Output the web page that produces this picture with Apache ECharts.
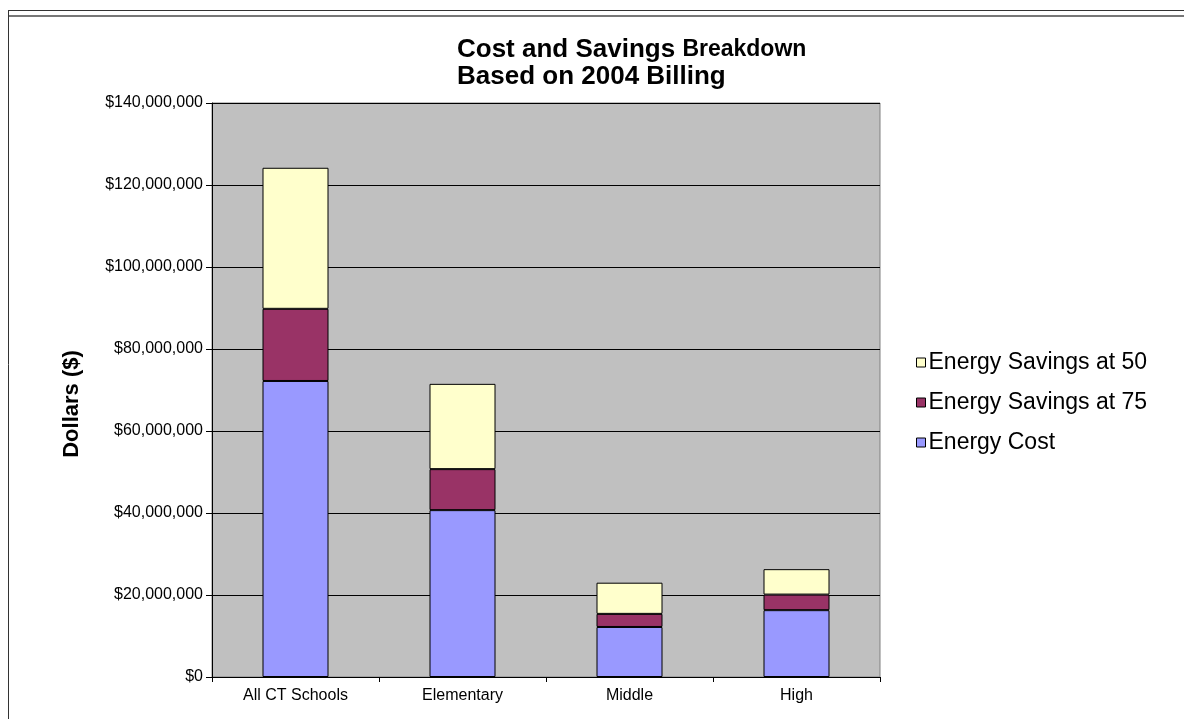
<!DOCTYPE html>
<html>
<head>
<meta charset="utf-8">
<script src="https://cdn.jsdelivr.net/npm/echarts@6/dist/echarts.min.js"></script>
<style>
html,body{margin:0;padding:0;background:#fff;}
#chart{width:1184px;height:719px;}
</style>
</head>
<body>
<div id="chart"></div>
<script>
const categories = ['All CT Schools', 'Elementary', 'Middle', 'High'];
const energyCost = [72200000, 40700000, 12200000, 16300000];
const savings75 = [17600000, 10000000, 3200000, 3800000];
const savings50 = [34400000, 20800000, 7600000, 6200000];
const seriesNames = ['Energy Savings at 50', 'Energy Savings at 75', 'Energy Cost'];
const yTicks = { min: 0, max: 140000000, interval: 20000000 };

const FONT = '"Liberation Sans", Arial, sans-serif';
const chart = echarts.init(document.getElementById('chart'));

function money(v) {
  return '$' + Math.round(v).toString().replace(/\B(?=(\d{3})+(?!\d))/g, ',');
}

const barStyle = (color) => ({ color: color, borderColor: '#000', borderWidth: 1 });

chart.setOption({
  animation: false,
  backgroundColor: '#fff',
  title: {
    left: 457,
    top: 36,
    padding: 0,
    text: '{a|Cost and Savings }{b|Breakdown}\n{a|Based on 2004 Billing}',
    textStyle: {
      fontFamily: FONT,
      lineHeight: 27,
      rich: {
        a: { fontFamily: FONT, fontSize: 26, fontWeight: 'bold', color: '#000', lineHeight: 27 },
        b: { fontFamily: FONT, fontSize: 23, fontWeight: 'bold', color: '#000', lineHeight: 27 }
      }
    }
  },
  legend: {
    orient: 'vertical',
    left: 916,
    top: 351,
    padding: 0,
    itemGap: 17,
    itemWidth: 9,
    itemHeight: 9,
    data: seriesNames,
    icon: 'rect',
    itemStyle: { borderColor: '#000', borderWidth: 1 },
    textStyle: { fontFamily: FONT, fontSize: 23, color: '#000', padding: [0, 0, 0, -2] }
  },
  grid: {
    left: 212,
    right: 304,
    top: 103,
    bottom: 42,
    show: true,
    backgroundColor: '#c0c0c0',
    borderColor: '#808080',
    borderWidth: 1,
    containLabel: false
  },
  xAxis: {
    type: 'category',
    data: categories,
    axisLine: { show: true, lineStyle: { color: '#000', width: 1 } },
    axisTick: { show: true, length: 5, inside: false, lineStyle: { color: '#000' } },
    axisLabel: { fontFamily: FONT, fontSize: 16, color: '#000', margin: 11 },
    splitLine: { show: false }
  },
  yAxis: {
    type: 'value',
    min: yTicks.min,
    max: yTicks.max,
    interval: yTicks.interval,
    axisLine: { show: true, lineStyle: { color: '#000', width: 1 } },
    axisTick: { show: true, length: 6, lineStyle: { color: '#000' } },
    axisLabel: { fontFamily: FONT, fontSize: 16, color: '#000', margin: 9, formatter: money },
    splitLine: { show: true, lineStyle: { color: '#000', width: 1 } }
  },
  graphic: [
    { type: 'line', shape: { x1: 8, y1: 10.5, x2: 1184, y2: 10.5 }, style: { stroke: '#333', lineWidth: 1 } },
    { type: 'line', shape: { x1: 8, y1: 16, x2: 1184, y2: 16 }, style: { stroke: '#777', lineWidth: 2 } },
    { type: 'line', shape: { x1: 8.5, y1: 10, x2: 8.5, y2: 719 }, style: { stroke: '#333', lineWidth: 1 } },
    { type: 'line', shape: { x1: 213, y1: 103.5, x2: 880, y2: 103.5 }, style: { stroke: '#808080', lineWidth: 1 } },
    {
      type: 'text',
      x: 72,
      y: 404,
      rotation: Math.PI / 2,
      style: {
        text: 'Dollars ($)',
        font: 'bold 22px ' + FONT,
        fill: '#000',
        align: 'center',
        verticalAlign: 'middle'
      }
    }
  ],
  series: [
    { name: 'Energy Cost', type: 'bar', stack: 'total', barWidth: 66, data: energyCost, itemStyle: barStyle('#9999ff') },
    { name: 'Energy Savings at 75', type: 'bar', stack: 'total', barWidth: 66, data: savings75, itemStyle: barStyle('#993366') },
    { name: 'Energy Savings at 50', type: 'bar', stack: 'total', barWidth: 66, data: savings50, itemStyle: barStyle('#ffffcc') }
  ]
});
</script>
</body>
</html>
